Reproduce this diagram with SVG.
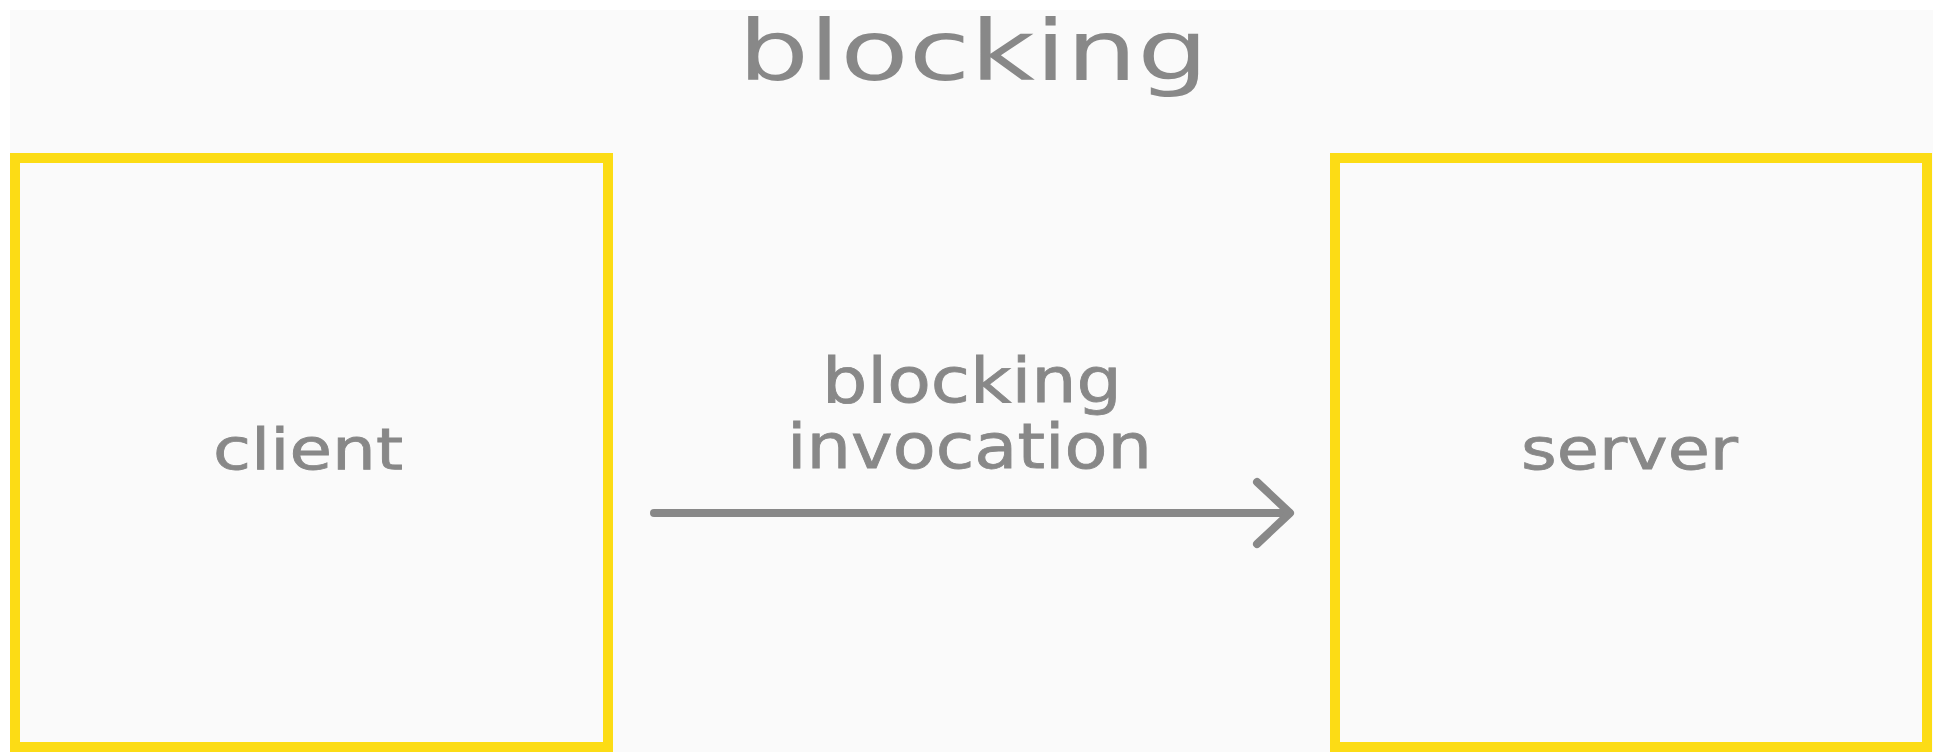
<svg xmlns="http://www.w3.org/2000/svg" width="1943" height="752" viewBox="0 0 1943 752">
  <style>
    .t { font-family: "DejaVu Sans", "Liberation Sans", sans-serif; fill: #888888; }
    .lbl { stroke: #888888; stroke-width: 0.8; }
    .box { fill: #FAFAFA; stroke: #FCDC15; stroke-width: 10; }
    .conn { fill: none; stroke: #888888; stroke-width: 8; stroke-linecap: round; stroke-linejoin: round; }
  </style>
  <rect x="0" y="0" width="1943" height="752" fill="#FFFFFF"/>
  <rect x="10" y="10" width="1923" height="742" fill="#FAFAFA"/>
  <g id="title">
    <text class="t" font-size="84" transform="translate(738,80) scale(1.333,1)">blocking</text>
  </g>
  <g id="client">
    <rect class="box" x="15" y="158" width="593" height="589"/>
    <text class="t lbl" font-size="57" transform="translate(213,469) scale(1.214,1)">client</text>
  </g>
  <g id="server">
    <rect class="box" x="1335" y="158" width="592" height="589"/>
    <text class="t lbl" font-size="57" transform="translate(1521,469) scale(1.203,1)">server</text>
  </g>
  <g id="connectors">
    <line class="conn" x1="654" y1="513" x2="1289" y2="513"/>
    <polyline class="conn" points="1257,482 1290,513 1257,544"/>
    <text class="t lbl" font-size="62" transform="translate(822,402) scale(1.152,1)">blocking</text>
    <text class="t lbl" font-size="62" transform="translate(787,468) scale(1.134,1)">invocation</text>
  </g>
</svg>
